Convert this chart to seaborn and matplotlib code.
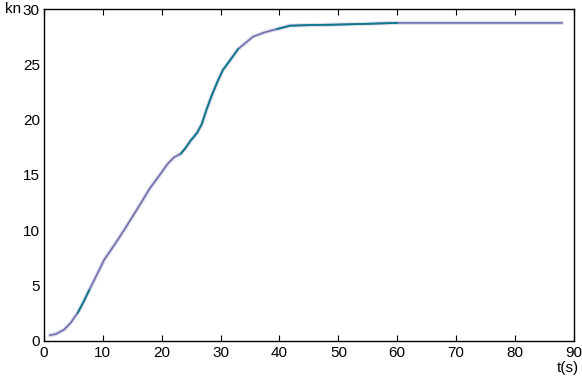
import numpy as np
import pandas as pd
import seaborn as sns
import matplotlib.pyplot as plt

# speed (kn) vs time (s)
t = [1.0, 2.0, 3.4, 4.5, 5.7, 6.7, 7.7, 9.0, 10.2, 12.0, 13.6, 15.0, 16.4, 18.0,
     19.8, 21.0, 22.1, 23.2, 24.0, 24.9, 26.0, 26.8, 27.6, 28.5, 29.6, 30.4,
     31.1, 33.0, 35.5, 37.5, 39.6, 41.8, 45.0, 50.0, 53.7, 60.0, 70.0, 80.0, 88.0]
kn = [0.5, 0.6, 1.0, 1.6, 2.5, 3.5, 4.6, 6.0, 7.3, 8.7, 10.0, 11.2, 12.4, 13.8,
      15.1, 16.0, 16.6, 16.9, 17.4, 18.1, 18.8, 19.6, 20.9, 22.2, 23.6, 24.5,
      25.0, 26.4, 27.5, 27.9, 28.2, 28.5, 28.55, 28.6, 28.65, 28.75, 28.75,
      28.75, 28.75]
# stretches drawn in the darker teal colour
teal_ranges = [(5.7, 7.7), (23.2, 33.0), (39.6, 60.0)]

df = pd.DataFrame({"t": t, "kn": kn})

sns.set_style("white")
plt.rcParams["font.family"] = ["Liberation Sans", "DejaVu Sans"]

fig = plt.figure(figsize=(5.82, 3.79), dpi=100)
ax = fig.add_axes([0.0756, 0.101, 0.9104, 0.875])

sns.lineplot(data=df, x="t", y="kn", ax=ax, color="#c9c9de", linewidth=3.0, alpha=0.6)
sns.lineplot(data=df, x="t", y="kn", ax=ax, color="#6f6fae", linewidth=1.2)
for lo, hi in teal_ranges:
    seg = df[(df["t"] >= lo) & (df["t"] <= hi)]
    sns.lineplot(data=seg, x="t", y="kn", ax=ax, color="#0b7a8c", linewidth=1.3)

ax.set_xlim(0, 90)
ax.set_ylim(0, 30)
ax.set_xticks(range(0, 91, 10))
ax.set_yticks(range(0, 31, 5))
ax.set_xlabel("")
ax.set_ylabel("")
for s in ax.spines.values():
    s.set_color("black")
    s.set_linewidth(1.0)
ax.tick_params(axis="x", direction="in", length=4, top=True, bottom=True,
               labelsize=11, pad=4, colors="black")
ax.tick_params(axis="y", direction="in", length=0, labelsize=11, pad=3,
               colors="black")

fig.text(5 / 582, 1 - 9 / 379, "kn", fontsize=11, va="center", ha="left",
         color="black")
fig.text(579 / 582, 1 - 368 / 379, "t(s)", fontsize=11, va="center", ha="right",
         color="black")

plt.savefig("out.png", dpi=100)
